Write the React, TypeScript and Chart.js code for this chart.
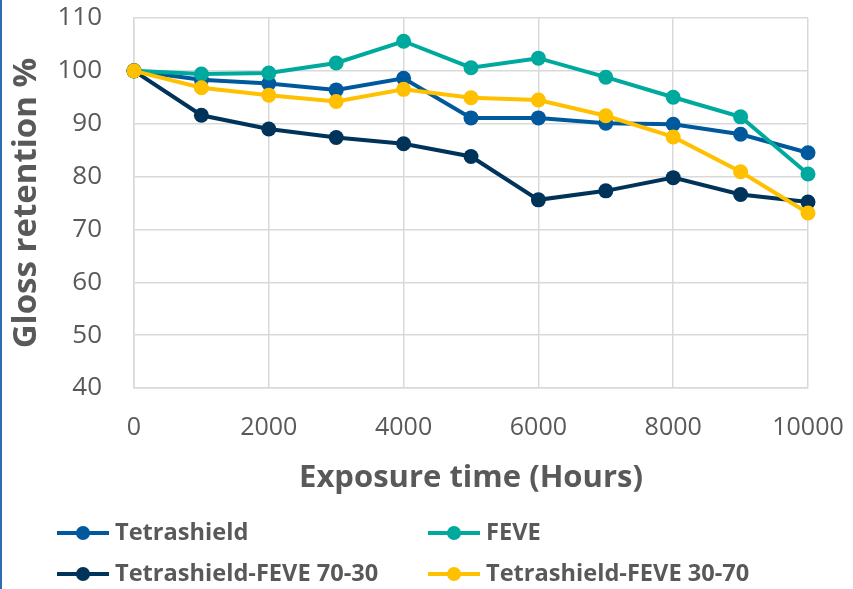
import React, { useEffect, useRef } from "react";
import { Chart, registerables } from "chart.js";

Chart.register(...registerables);

const hours = [0, 1000, 2000, 3000, 4000, 5000, 6000, 7000, 8000, 9000, 10000];
const tetrashield = [100, 98.3, 97.6, 96.4, 98.6, 91.1, 91.1, 90.1, 89.9, 88.0, 84.5];
const feve = [100, 99.4, 99.6, 101.5, 105.6, 100.6, 102.4, 98.8, 95.0, 91.3, 80.5];
const blend7030 = [100, 91.6, 89.0, 87.4, 86.2, 83.8, 75.6, 77.3, 79.8, 76.6, 75.2];
const blend3070 = [100, 96.8, 95.4, 94.2, 96.5, 94.9, 94.5, 91.5, 87.5, 80.9, 73.1];

const seriesNames = ["Tetrashield", "FEVE", "Tetrashield-FEVE 70-30", "Tetrashield-FEVE 30-70"];
const seriesColors = ["#00599C", "#00A99D", "#003359", "#FFC000"];
const seriesValues = [tetrashield, feve, blend7030, blend3070];
const seriesOrder = [3, 2, 1, 0];

const xTitle = "Exposure time (Hours)";
const yTitle = "Gloss retention %";

const TEXT = "#595959";
const GRID = "#d9d9d9";

const legendPlugin = {
  id: "gridLegend",
  afterDraw(chart: any) {
    const ctx = chart.ctx;
    const cols = [57, 428];
    const rows = [533, 574];
    ctx.save();
    chart.data.datasets.forEach((ds: any, i: number) => {
      const x = cols[i % 2];
      const y = rows[Math.floor(i / 2)];
      ctx.strokeStyle = ds.borderColor;
      ctx.lineWidth = 4;
      ctx.beginPath();
      ctx.moveTo(x, y);
      ctx.lineTo(x + 52, y);
      ctx.stroke();
      ctx.fillStyle = ds.borderColor;
      ctx.beginPath();
      ctx.arc(x + 26, y, 7, 0, Math.PI * 2);
      ctx.fill();
      ctx.fillStyle = TEXT;
      ctx.font = "bold 23.6px 'Open Sans'";
      ctx.textBaseline = "middle";
      ctx.textAlign = "left";
      ctx.fillText(ds.label, x + 58, y);
    });
    ctx.restore();
  },
};

export default function App() {
  const ref = useRef<HTMLCanvasElement | null>(null);

  useEffect(() => {
    if (!ref.current) return;
    const chart = new Chart(ref.current, {
      type: "line",
      data: {
        datasets: seriesNames.map((name, i) => ({
          label: name,
          data: hours.map((h, j) => ({ x: h, y: seriesValues[i][j] })),
          borderColor: seriesColors[i],
          backgroundColor: seriesColors[i],
          pointBackgroundColor: seriesColors[i],
          pointBorderColor: seriesColors[i],
          borderWidth: 4,
          pointRadius: 7.5,
          pointBorderWidth: 0,
          tension: 0,
          clip: false,
          order: seriesOrder[i],
        })),
      },
      options: {
        responsive: false,
        animation: false,
        layout: { padding: { left: 0, right: 45, top: 18, bottom: 91 } },
        plugins: {
          legend: { display: false },
          tooltip: { enabled: false },
        },
        scales: {
          x: {
            type: "linear",
            min: 0,
            max: 10000,
            afterFit: (s: any) => {
              s.height = 110;
              s.paddingLeft = 0;
              s.paddingRight = 0;
            },
            ticks: {
              stepSize: 2000,
              color: TEXT,
              font: { family: "'Open Sans'", size: 25 },
              padding: 25,
              maxRotation: 0,
              callback: (v: any) => String(v),
            },
            grid: { color: GRID, lineWidth: 1.5, drawTicks: false },
            border: { color: GRID, width: 1.5 },
            title: {
              display: true,
              text: xTitle,
              color: TEXT,
              font: { family: "'Open Sans'", size: 31, weight: "bold" },
              padding: { top: 0, bottom: 1 },
            },
          },
          y: {
            min: 40,
            max: 110,
            afterFit: (s: any) => {
              s.width = 134;
              s.paddingTop = 0;
              s.paddingBottom = 0;
            },
            ticks: {
              stepSize: 10,
              color: TEXT,
              font: { family: "'Open Sans'", size: 26 },
              padding: 32,
              callback: (v: any) => String(v),
            },
            grid: { color: GRID, lineWidth: 1.5, drawTicks: false },
            border: { color: GRID, width: 1.5 },
            title: {
              display: true,
              text: yTitle,
              color: TEXT,
              font: { family: "'Open Sans'", size: 33, weight: "bold" },
              padding: { top: 7, bottom: 0 },
            },
          },
        },
      },
      plugins: [legendPlugin],
    });
    return () => chart.destroy();
  }, []);

  return (
    <div
      style={{
        position: "fixed",
        left: 0,
        top: 0,
        width: 853,
        height: 589,
        background: "#ffffff",
      }}
    >
      <canvas ref={ref} width={853} height={589} style={{ display: "block" }} />
      <div
        style={{
          position: "absolute",
          left: 0,
          top: 0,
          width: 2,
          height: 589,
          background: "#2E6DB4",
        }}
      />
    </div>
  );
}
